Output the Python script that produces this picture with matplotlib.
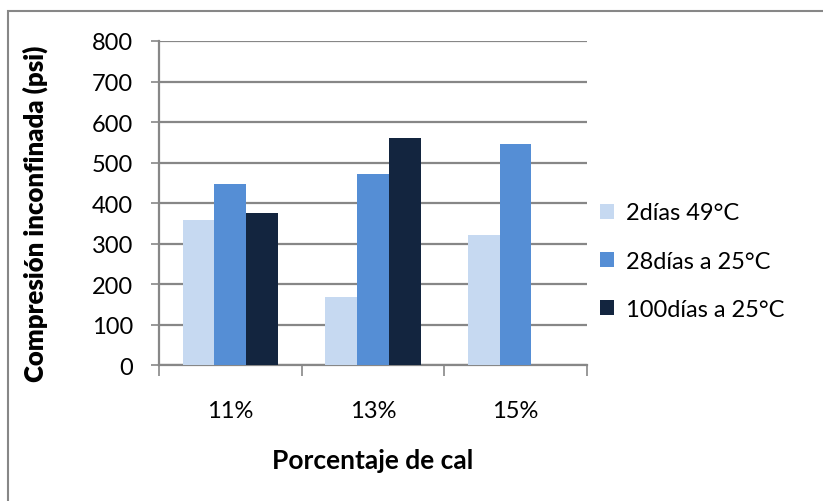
import numpy as np
import matplotlib
matplotlib.use('AGG')
import matplotlib.pyplot as plt
from matplotlib.patches import Rectangle


categorias = ['11%', '13%', '15%']
series = ['2días 49°C', '28días a 25°C', '100días a 25°C']
dias_2 = [358, 169, 321]
dias_28 = [447, 473, 545]
dias_100 = [377, 560, 0]
colores = ['#C6D9F1', '#558ED5', '#13253F']

plt.rcParams['font.family'] = ['Lato', 'DejaVu Sans']
gris = '#878787'

fig = plt.figure(figsize=(8.23, 5.02), dpi=100)
ax = fig.add_axes([0.1932, 0.27, 0.52, 0.6464])

x = np.arange(len(categorias))
ancho = 1 / 4.5  # ancho de hueco 150 %
for i, (valores, nombre) in enumerate(zip([dias_2, dias_28, dias_100], series)):
    ax.bar(x + (i - 1) * ancho, valores, ancho, color=colores[i], label=nombre,
           zorder=3, edgecolor='none')

ax.set_xlim(-0.5, 2.5)
ax.set_ylim(0, 800)
ax.set_yticks(np.arange(0, 801, 100))
ax.yaxis.grid(True, color=gris, linewidth=1.6, zorder=0)
ax.tick_params(axis='y', length=6, width=1.2, color=gris, labelsize=17, pad=12.5)

# marcas de x en los limites de cada categoria, etiquetas en el centro
ax.set_xticks([-0.5, 0.5, 1.5, 2.5])
ax.set_xticklabels([])
ax.set_xticks(x, minor=True)
ax.set_xticklabels(categorias, minor=True)
ax.tick_params(axis='x', which='major', length=8, width=1.2, color=gris)
ax.tick_params(axis='x', which='minor', length=0, labelsize=17, pad=25)

for lado in ['top', 'right']:
    ax.spines[lado].set_visible(False)
for lado in ['left', 'bottom']:
    ax.spines[lado].set_color(gris)
    ax.spines[lado].set_linewidth(1.6)

ax.set_ylabel('Compresión inconfinada (psi)', fontsize=18.5, fontweight='heavy')
ax.yaxis.set_label_coords(-0.259, 0.47)
ax.set_xlabel('Porcentaje de cal', fontsize=19, fontweight='bold')
ax.xaxis.set_label_coords(0.5, -0.255)

fig.legend(loc='center left', bbox_to_anchor=(0.729, 0.478), frameon=False,
           fontsize=17, handlelength=0.6, handleheight=0.6, handletextpad=0.5,
           labelspacing=1.15, borderaxespad=0, borderpad=0)

fig.patches.append(Rectangle((0.0097, -0.05), 1.1, 1.026, transform=fig.transFigure,
                             fill=False, edgecolor=gris, linewidth=1.5))

fig.savefig('out.png', dpi=100)
